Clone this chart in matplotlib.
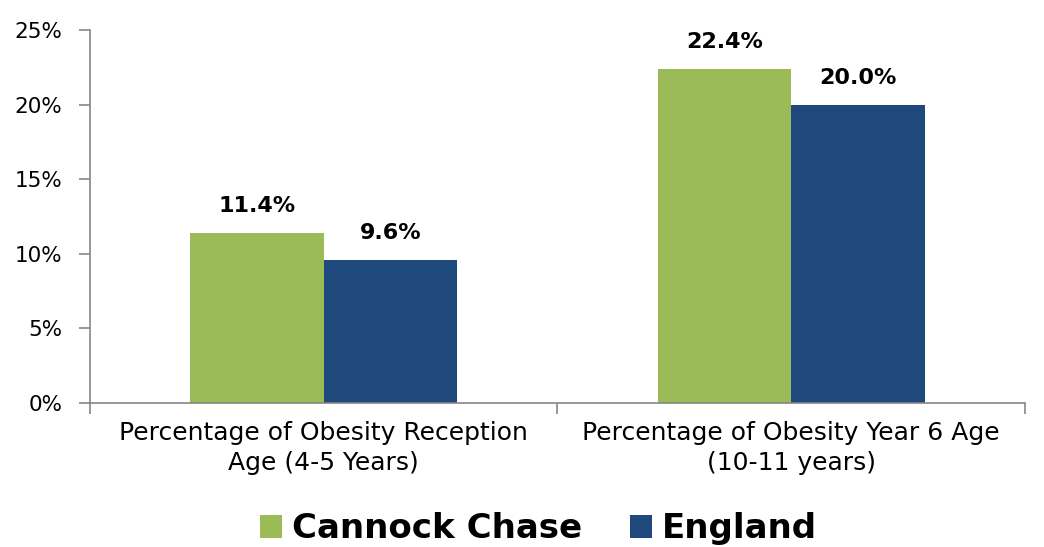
import matplotlib.pyplot as plt
import numpy as np
from matplotlib.ticker import FuncFormatter

categorias = ['Percentage of Obesity Reception\nAge (4-5 Years)',
              'Percentage of Obesity Year 6 Age\n(10-11 years)']
cannock = [11.4, 22.4]
england = [9.6, 20.0]
series = ['Cannock Chase', 'England']
cores = ['#9BBB59', '#1F497D']

fig = plt.figure(figsize=(10.44, 5.47), dpi=100)
ax = fig.add_axes([0.0862, 0.2633, 0.8956, 0.6817])

x = np.arange(len(categorias))
w = 0.2856
b1 = ax.bar(x - w / 2, cannock, w, color=cores[0], label=series[0])
b2 = ax.bar(x + w / 2, england, w, color=cores[1], label=series[1])

for barras in (b1, b2):
    ax.bar_label(barras, labels=[f'{v:.1f}%' for v in barras.datavalues],
                 padding=12, fontsize=16, fontweight='bold')

ax.set_xlim(-0.5, 1.5)
ax.set_ylim(0, 25)
ax.set_yticks(np.arange(0, 26, 5))
ax.yaxis.set_major_formatter(FuncFormatter(lambda v, p: f'{v:.0f}%'))
ax.set_xticks(x)
ax.set_xticklabels(categorias, fontsize=18, linespacing=1.3)
ax.set_xticks([-0.5, 0.5, 1.5], minor=True)
ax.tick_params(axis='x', which='major', length=0, pad=13)
ax.tick_params(axis='x', which='minor', length=8, color='#868686', width=1.2)
ax.tick_params(axis='y', length=8, color='#868686', width=1.2, labelsize=15.5, pad=12)

for s in ['top', 'right']:
    ax.spines[s].set_visible(False)
for s in ['left', 'bottom']:
    ax.spines[s].set_color('#868686')
    ax.spines[s].set_linewidth(1.2)

fig.legend(handles=[b1, b2], labels=series, loc='center', bbox_to_anchor=(0.516, 0.033),
           ncol=2, frameon=False, prop={'size': 24.5, 'weight': 'bold'},
           handlelength=0.65, handleheight=0.65, handletextpad=0.3, columnspacing=1.4)

fig.savefig('out.png', dpi=100)
